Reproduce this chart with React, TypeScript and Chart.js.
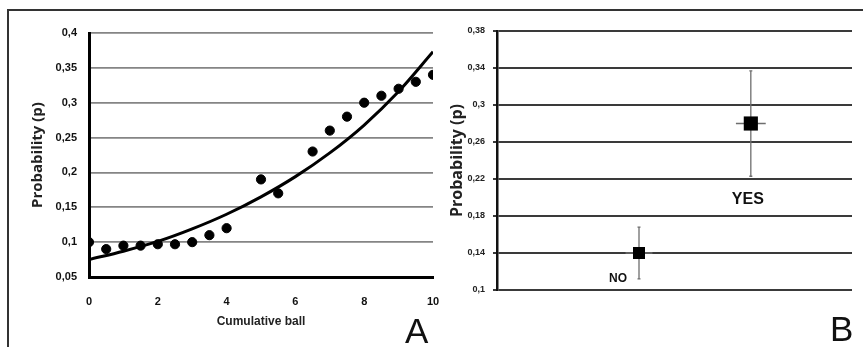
import React, { useEffect, useRef } from 'react';
import { Chart, registerables } from 'chart.js';

Chart.register(...registerables);

// ---------- Panel A data ----------
const ballX = [0, 0.5, 1, 1.5, 2, 2.5, 3, 3.5, 4, 5, 5.5, 6.5, 7, 7.5, 8, 8.5, 9, 9.5, 10];
const probObserved = [0.1, 0.09, 0.095, 0.095, 0.097, 0.097, 0.1, 0.11, 0.12, 0.19, 0.17, 0.23, 0.26, 0.28, 0.3, 0.31, 0.32, 0.33, 0.34];
const fitX = [0, 1, 2, 3, 4, 5, 6, 7, 8, 9, 10];
const fitP = [0.075, 0.087, 0.101, 0.119, 0.14, 0.165, 0.194, 0.228, 0.268, 0.316, 0.373];
const ticksYA = [0.05, 0.1, 0.15, 0.2, 0.25, 0.3, 0.35, 0.4];
const ticksXA = [0, 2, 4, 6, 8, 10];

// ---------- Panel B data ----------
const groupsB = ['NO', 'YES'];
const groupPosB = [0.4, 0.715];
const probB = [0.14, 0.28];
const lowB = [0.112, 0.223];
const highB = [0.168, 0.337];
const xErrB = [0.038, 0.042];
const ticksYB = [0.1, 0.14, 0.18, 0.22, 0.26, 0.3, 0.34, 0.38];

const SANS = "'Liberation Sans', Arial, sans-serif";
const fmt = (v: number) => String(Math.round(v * 100) / 100).replace('.', ',');

const errorBarPlugin = {
  id: 'errBarsB',
  beforeDatasetsDraw(chart: any) {
    const { ctx, scales } = chart;
    const x = scales.x, y = scales.y;
    ctx.save();
    ctx.strokeStyle = '#6e6e6e';
    ctx.lineWidth = 1.3;
    probB.forEach((p, i) => {
      const px = x.getPixelForValue(groupPosB[i]);
      const py = y.getPixelForValue(p);
      const yl = y.getPixelForValue(lowB[i]);
      const yh = y.getPixelForValue(highB[i]);
      const xl = x.getPixelForValue(groupPosB[i] - xErrB[i]);
      const xr = x.getPixelForValue(groupPosB[i] + xErrB[i]);
      ctx.beginPath();
      ctx.moveTo(px, yl); ctx.lineTo(px, yh);
      ctx.moveTo(xl, py); ctx.lineTo(xr, py);
      ctx.moveTo(px - 1.5, yl); ctx.lineTo(px + 1.5, yl);
      ctx.moveTo(px - 1.5, yh); ctx.lineTo(px + 1.5, yh);
      ctx.stroke();
    });
    ctx.restore();
  },
  afterDatasetsDraw(chart: any) {
    const { ctx, scales } = chart;
    const x = scales.x, y = scales.y;
    const offsets = [[-21, 26], [-3, 76]];
    const fonts = ["bold 12px 'Liberation Sans', Arial, sans-serif", "bold 16px 'Liberation Sans', Arial, sans-serif"];
    ctx.save();
    ctx.fillStyle = '#111';
    ctx.textAlign = 'center';
    ctx.textBaseline = 'middle';
    groupsB.forEach((g, i) => {
      const px = x.getPixelForValue(groupPosB[i]);
      const py = y.getPixelForValue(probB[i]);
      ctx.font = fonts[i];
      ctx.fillText(g, px + offsets[i][0], py + offsets[i][1]);
    });
    ctx.restore();
  },
};

export default function App() {
  const refA = useRef<HTMLCanvasElement>(null);
  const refB = useRef<HTMLCanvasElement>(null);

  useEffect(() => {
    document.body.style.margin = '0';
    const chartA = new Chart(refA.current!, {
      type: 'scatter',
      data: {
        datasets: [
          {
            label: 'observed',
            data: ballX.map((v, i) => ({ x: v, y: probObserved[i] })),
            backgroundColor: '#000',
            borderColor: '#000',
            pointRadius: 4.6,
            showLine: false,
          },
          {
            label: 'fit',
            data: fitX.map((v, i) => ({ x: v, y: fitP[i] })),
            borderColor: '#000',
            borderWidth: 3,
            pointRadius: 0,
            showLine: true,
            cubicInterpolationMode: 'monotone',
          },
        ],
      },
      options: {
        animation: false,
        responsive: false,
        maintainAspectRatio: false,
        layout: { padding: { top: 33, right: 7, left: 0, bottom: 0 } },
        plugins: { legend: { display: false }, tooltip: { enabled: false } },
        scales: {
          x: {
            type: 'linear',
            min: 0,
            max: 10,
            afterBuildTicks: (s: any) => { s.ticks = ticksXA.map((v) => ({ value: v })); },
            afterFit: (s: any) => { s.height = 70; s.paddingLeft = 0; s.paddingRight = 0; },
            grid: { display: false },
            border: { display: true, color: '#000', width: 3 },
            ticks: {
              color: '#111',
              padding: 10,
              font: { family: SANS, weight: 'bold', size: 11 },
              callback: (v: any) => String(v),
            },
            title: {
              display: true,
              text: 'Cumulative ball',
              color: '#222',
              font: { family: SANS, weight: 'bold', size: 12 },
              padding: { top: 0, bottom: 18 },
            },
          },
          y: {
            type: 'linear',
            min: 0.05,
            max: 0.4,
            afterBuildTicks: (s: any) => { s.ticks = ticksYA.map((v) => ({ value: v })); },
            afterFit: (s: any) => { s.width = 89; s.paddingTop = 0; s.paddingBottom = 0; },
            grid: { color: '#858585', lineWidth: 1.7, drawTicks: false },
            border: { display: true, color: '#000', width: 3 },
            ticks: {
              color: '#111',
              padding: 12,
              font: { family: SANS, weight: 'bold', size: 11 },
              callback: (v: any) => fmt(Number(v)),
            },
            title: {
              display: true,
              text: 'Probability (p)',
              color: '#222',
              font: { family: "'Open Sans', sans-serif", weight: 'bold', size: 15 },
              padding: { top: 29, bottom: 0 },
            },
          },
        },
      },
    } as any);

    const chartB = new Chart(refB.current!, {
      type: 'scatter',
      data: {
        datasets: [
          {
            label: 'groups',
            data: groupPosB.map((v, i) => ({ x: v, y: probB[i] })),
            backgroundColor: '#000',
            borderColor: '#000',
            borderWidth: 0,
            pointStyle: 'rect',
            pointRadius: [8.5, 10],
            showLine: false,
          },
        ],
      },
      options: {
        animation: false,
        responsive: false,
        maintainAspectRatio: false,
        layout: { padding: { top: 31, right: 11, left: 0, bottom: 57 } },
        plugins: { legend: { display: false }, tooltip: { enabled: false } },
        scales: {
          x: { type: 'linear', min: 0, max: 1, display: false },
          y: {
            type: 'linear',
            min: 0.1,
            max: 0.38,
            afterBuildTicks: (s: any) => { s.ticks = ticksYB.map((v) => ({ value: v })); },
            afterFit: (s: any) => { s.width = 57; s.paddingTop = 0; s.paddingBottom = 0; },
            grid: { color: '#3a3a3a', lineWidth: 2, drawTicks: true, tickLength: 4 },
            border: { display: true, color: '#111', width: 2.5 },
            ticks: {
              color: '#222',
              padding: 8,
              font: { family: SANS, weight: 'bold', size: 9 },
              callback: (v: any) => fmt(Number(v)),
            },
            title: {
              display: true,
              text: 'Probability (p)',
              color: '#222',
              font: { family: "'Open Sans', sans-serif", weight: 'bold', size: 16 },
              padding: { top: 8, bottom: 0 },
            },
          },
        },
      },
      plugins: [errorBarPlugin],
    } as any);

    return () => {
      chartA.destroy();
      chartB.destroy();
    };
  }, []);

  const bigLetter: React.CSSProperties = {
    position: 'absolute',
    fontFamily: "'Liberation Sans', Arial, sans-serif",
    fontSize: 35,
    lineHeight: '35px',
    color: '#111',
  };

  return (
    <div style={{ position: 'relative', width: 863, height: 347, background: '#fff', overflow: 'hidden' }}>
      <canvas ref={refA} width={440} height={347} style={{ position: 'absolute', left: 0, top: 0, width: 440, height: 347 }} />
      <canvas ref={refB} width={423} height={347} style={{ position: 'absolute', left: 440, top: 0, width: 423, height: 347 }} />
      <div style={{ position: 'absolute', left: 7, top: 9, width: 856, height: 2, background: '#333' }} />
      <div style={{ position: 'absolute', left: 7, top: 9, width: 2, height: 338, background: '#333' }} />
      <div style={{ ...bigLetter, left: 405, top: 313 }}>A</div>
      <div style={{ ...bigLetter, left: 830, top: 311 }}>B</div>
    </div>
  );
}
